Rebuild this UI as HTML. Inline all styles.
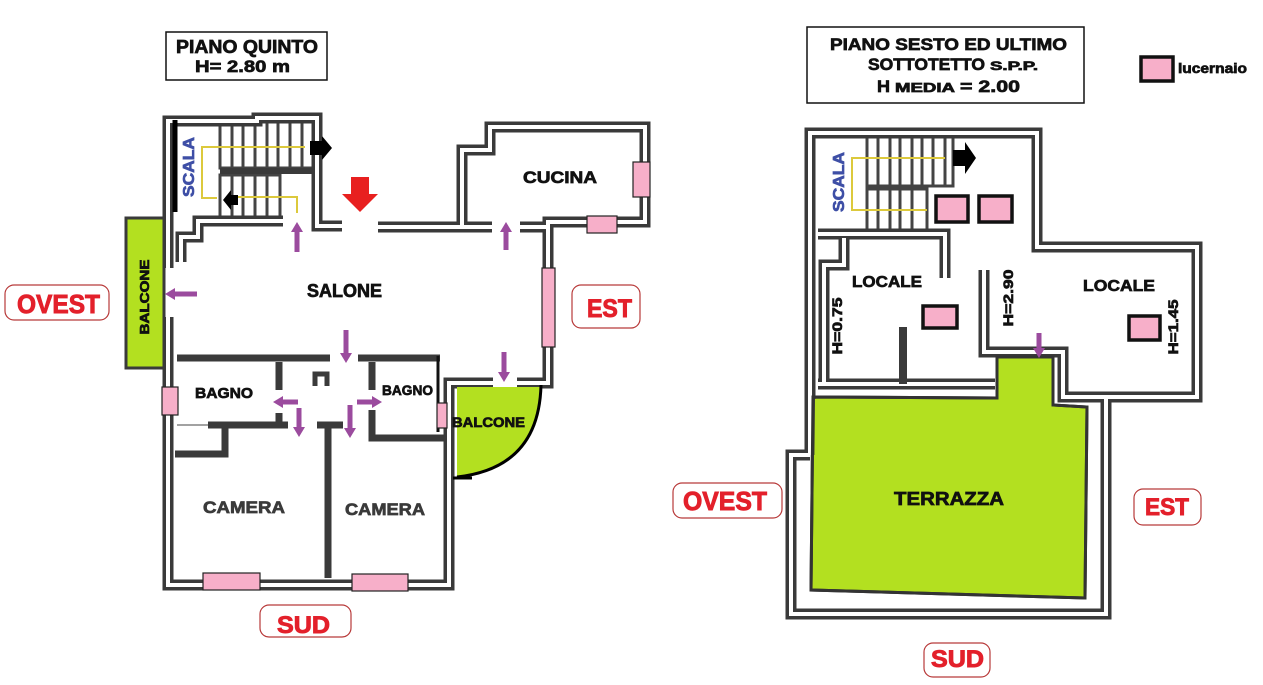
<!DOCTYPE html>
<html><head><meta charset="utf-8"><style>
html,body{margin:0;padding:0;background:#fff;}
svg{display:block;}
text{font-family:"Liberation Sans",Arial,sans-serif;font-weight:bold;stroke-width:0.7;}
.w{fill:none;stroke:#3a3a3a;stroke-width:11;stroke-linejoin:miter;}
.wi{fill:none;stroke:#fff;stroke-width:4;}
.s{fill:none;stroke:#3a3a3a;stroke-width:7;}
.st{stroke:#444;stroke-width:3;}
.pk{fill:#f7afc9;stroke:#222;stroke-width:1.2;}
.sk{fill:#f7afc9;stroke:#111;stroke-width:3.5;}
.pu{fill:#9b4b9e;}
.lab{fill:#fff;stroke:#b83a3a;stroke-width:1.2;}
.red{fill:#e3202b;stroke:#e3202b;stroke-width:0.9;}
.k{fill:#111;stroke:#111;}
.g{fill:#3a3a3a;stroke:#3a3a3a;}
.b{fill:#3e4fa6;stroke:#3e4fa6;}
</style></head><body>
<svg width="1263" height="685" viewBox="0 0 1263 685" xmlns="http://www.w3.org/2000/svg">
<rect width="1263" height="685" fill="#fff"/>

<!-- ===== LEFT PLAN ===== -->
<rect x="126" y="218" width="38" height="150" fill="#b3e020" stroke="#3a3a3a" stroke-width="3"/>

<g>
<rect x="220" y="121" width="93" height="47" fill="#fff" stroke="#444" stroke-width="3"/>
<line class="st" x1="232" y1="121" x2="232" y2="168"/><line class="st" x1="243" y1="121" x2="243" y2="168"/>
<line class="st" x1="255" y1="118" x2="255" y2="168"/><line class="st" x1="267" y1="118" x2="267" y2="168"/>
<line class="st" x1="278" y1="118" x2="278" y2="168"/><line class="st" x1="290" y1="118" x2="290" y2="168"/>
<line class="st" x1="302" y1="118" x2="302" y2="168"/>
<rect x="220" y="175" width="60" height="42" fill="#fff" stroke="#444" stroke-width="3"/>
<line class="st" x1="232" y1="175" x2="232" y2="217"/><line class="st" x1="243" y1="175" x2="243" y2="217"/>
<line class="st" x1="255" y1="175" x2="255" y2="217"/><line class="st" x1="267" y1="175" x2="267" y2="217"/>
</g>
<line x1="220" y1="171" x2="318" y2="171" stroke="#3a3a3a" stroke-width="6"/>

<g class="w">
<path d="M168,268 V121 H257 V118 H317 V226 H342"/>
<path d="M283,221 H198 V237 H181 V262"/>
<path d="M378,227 H492"/>
<path d="M520,227 H548"/>
<path d="M462,227 V150 H490 V127 H645 V222 H548 V383 H517"/>
<path d="M493,383 H449 V585 H168 V317"/>
</g>
<g class="wi">
<path d="M168,268 V121 H257 V118 H317 V226 H342"/>
<path d="M283,221 H198 V237 H181 V262"/>
<path d="M378,227 H492"/>
<path d="M520,227 H548"/>
<path d="M462,227 V150 H490 V127 H645 V222 H548 V383 H517"/>
<path d="M493,383 H449 V585 H168 V317"/>
</g>
<g class="s">
<path d="M177,358 H330"/><path d="M358,358 H440"/>
<path d="M279,362 V390"/><path d="M279,413 V425"/><path d="M208,425 H288"/>
<path d="M225,425 V454 H175"/>
<path d="M317,425 H343"/><path d="M328,425 V578"/>
<path d="M372,362 V390"/><path d="M372,410 V438 H446"/>
</g>
<path d="M315,386 V374 H327 V386" fill="none" stroke="#3a3a3a" stroke-width="5"/>
<line x1="438" y1="356" x2="438" y2="432" stroke="#111" stroke-width="3"/>
<line x1="177" y1="425" x2="208" y2="425" stroke="#444" stroke-width="1"/>
<line x1="175" y1="120" x2="175" y2="212" stroke="#000" stroke-width="5"/>

<path d="M457,387 L541,387 Q540,468 457,477 Z" fill="#b3e020"/>
<path d="M541,385 Q539,468 457,477" fill="none" stroke="#000" stroke-width="3"/>
<line x1="453" y1="478" x2="472" y2="478" stroke="#000" stroke-width="3"/>

<rect class="pk" x="162" y="387" width="16" height="28"/>
<rect class="pk" x="203" y="573" width="57" height="17"/>
<rect class="pk" x="352" y="574" width="56" height="17"/>
<rect class="pk" x="437" y="403" width="10" height="25"/>
<rect class="pk" x="542" y="268" width="13" height="79"/>
<rect class="pk" x="633" y="162" width="17" height="35"/>
<rect class="pk" x="587" y="216" width="30" height="17"/>

<polyline points="305,147 202,147 202,198 217,198" fill="none" stroke="#dcc93c" stroke-width="2"/>
<polyline points="238,197 297,197 297,213" fill="none" stroke="#dcc93c" stroke-width="2"/>
<polygon points="310,141 322,141 322,136 332,148 322,160 322,155 310,155" fill="#000"/>
<polygon points="223,200 231,190 231,195 238,195 238,205 231,205 231,210" fill="#000"/>
<polygon points="351,177 369,177 369,194 378,194 360,212 342,194 351,194" fill="#e8201f"/>

<polygon class="pu" points="297,222 303,232 299.5,232 299.5,252 294.5,252 294.5,232 291,232"/>
<polygon class="pu" points="506,222 512,232 508.5,232 508.5,250 503.5,250 503.5,232 500,232"/>
<polygon class="pu" points="343.5,330 348.5,330 348.5,353 352,353 346,363 340,353 343.5,353"/>
<polygon class="pu" points="501.5,352 506.5,352 506.5,372 510,372 504,382 498,372 501.5,372"/>
<polygon class="pu" points="296.5,408 301.5,408 301.5,427 305,427 299,437 293,427 296.5,427"/>
<polygon class="pu" points="347.5,405 352.5,405 352.5,428 356,428 350,438 344,428 347.5,428"/>
<polygon class="pu" points="165,294 175,288 175,291.5 197,291.5 197,296.5 175,296.5 175,300"/>
<polygon class="pu" points="273,402 283,396 283,399.5 298,399.5 298,404.5 283,404.5 283,408"/>
<polygon class="pu" points="382,402 372,396 372,399.5 357,399.5 357,404.5 372,404.5 372,408"/>

<text class="k" x="523" y="183" font-size="17" textLength="74" lengthAdjust="spacingAndGlyphs">CUCINA</text>
<text class="k" x="307" y="297" font-size="18" textLength="75" lengthAdjust="spacingAndGlyphs">SALONE</text>
<text class="k" x="195" y="398" font-size="15" textLength="58" lengthAdjust="spacingAndGlyphs">BAGNO</text>
<text class="k" x="382" y="395" font-size="14" textLength="51" lengthAdjust="spacingAndGlyphs">BAGNO</text>
<text class="k" x="452" y="427" font-size="14" textLength="73" lengthAdjust="spacingAndGlyphs">BALCONE</text>
<text class="g" x="203" y="513" font-size="17" textLength="82" lengthAdjust="spacingAndGlyphs">CAMERA</text>
<text class="g" x="345" y="515" font-size="17" textLength="80" lengthAdjust="spacingAndGlyphs">CAMERA</text>
<text class="k" transform="translate(144,297) rotate(-90)" y="5" text-anchor="middle" font-size="13" textLength="75" lengthAdjust="spacingAndGlyphs">BALCONE</text>
<text class="b" transform="translate(188,167) rotate(-90)" y="6" text-anchor="middle" font-size="16" textLength="60" lengthAdjust="spacingAndGlyphs">SCALA</text>

<rect x="166" y="32" width="161" height="48" fill="#fff" stroke="#111" stroke-width="1.5"/>
<text class="k" x="176" y="53" font-size="18" textLength="142" lengthAdjust="spacingAndGlyphs">PIANO QUINTO</text>
<text class="k" x="195" y="72" font-size="17" textLength="95" lengthAdjust="spacingAndGlyphs">H= 2.80 m</text>

<rect class="lab" x="5" y="285" width="104" height="35" rx="9"/>
<text class="red" x="17" y="313" font-size="26" textLength="83" lengthAdjust="spacingAndGlyphs">OVEST</text>
<rect class="lab" x="572" y="285" width="68" height="43" rx="9"/>
<text class="red" x="587" y="317" font-size="25" textLength="45" lengthAdjust="spacingAndGlyphs">EST</text>
<rect class="lab" x="260" y="605" width="91" height="32" rx="9"/>
<text class="red" x="277" y="633" font-size="24" textLength="53" lengthAdjust="spacingAndGlyphs">SUD</text>

<!-- ===== RIGHT PLAN ===== -->
<path d="M813,397 L997,398 L997,357 L1053,357 L1053,405 L1087,407 L1085,598 L811,590 Z" fill="#b3e020" stroke="#333" stroke-width="3"/>

<rect x="867" y="137" width="86" height="49" fill="#fff" stroke="#444" stroke-width="3"/>
<line class="st" x1="878" y1="137" x2="878" y2="186"/><line class="st" x1="890" y1="137" x2="890" y2="186"/>
<line class="st" x1="900" y1="137" x2="900" y2="186"/><line class="st" x1="912" y1="137" x2="912" y2="186"/>
<line class="st" x1="922" y1="137" x2="922" y2="186"/><line class="st" x1="933" y1="137" x2="933" y2="186"/>
<line class="st" x1="945" y1="137" x2="945" y2="186"/>
<rect x="867" y="189" width="60" height="41" fill="#fff" stroke="#444" stroke-width="3"/>
<line class="st" x1="878" y1="189" x2="878" y2="230"/><line class="st" x1="890" y1="189" x2="890" y2="230"/>
<line class="st" x1="900" y1="189" x2="900" y2="230"/><line class="st" x1="912" y1="189" x2="912" y2="230"/>

<g class="w">
<path d="M810,455 V133 H1037 V247 H1197 V397 H1063 V352 H984 V270"/>
<path d="M818,234 H945 V278"/>
<path d="M824,384 V265 H844 V238"/>
<path d="M818,384 H995"/>
<path d="M810,455 H791 V614 H1106 V397"/>
</g>
<g class="wi">
<path d="M810,455 V133 H1037 V247 H1197 V397 H1063 V352 H984 V270"/>
<path d="M818,234 H945 V278"/>
<path d="M824,384 V265 H844 V238"/>
<path d="M818,384 H995"/>
<path d="M810,455 H791 V614 H1106 V397"/>
</g>
<line x1="903" y1="327" x2="903" y2="384" stroke="#3a3a3a" stroke-width="8"/>

<path d="M815,399 L999,400 L999,359 L1051,359 L1051,407 L1085,409 L1083,596 L813,588 Z" fill="#b3e020"/>
<path d="M813,397 L997,398 L997,357 L1053,357 L1053,405 L1087,407 L1085,598 L811,590 Z" fill="none" stroke="#333" stroke-width="3"/>

<rect class="sk" x="936" y="196" width="32" height="26"/>
<rect class="sk" x="979" y="196" width="33" height="26"/>
<rect class="sk" x="923" y="306" width="34" height="22"/>
<rect class="sk" x="1129" y="316" width="31" height="24"/>

<polyline points="945,158 852,158 852,210 927,210" fill="none" stroke="#dcc93c" stroke-width="2"/>
<polygon points="953,150 965,150 965,142 976,158 965,174 965,166 953,166" fill="#000"/>
<polygon class="pu" points="1036.5,333 1041.5,333 1041.5,348 1045,348 1039,358 1033,348 1036.5,348"/>

<text class="b" transform="translate(838,182) rotate(-90)" y="6" text-anchor="middle" font-size="16" textLength="60" lengthAdjust="spacingAndGlyphs">SCALA</text>
<text class="k" x="852" y="287" font-size="16" textLength="70" lengthAdjust="spacingAndGlyphs">LOCALE</text>
<text class="k" x="1083" y="291" font-size="16" textLength="72" lengthAdjust="spacingAndGlyphs">LOCALE</text>
<text class="k" transform="translate(837,326) rotate(-90)" y="5" text-anchor="middle" font-size="14" textLength="57" lengthAdjust="spacingAndGlyphs">H=0.75</text>
<text class="k" transform="translate(1008,298) rotate(-90)" y="5" text-anchor="middle" font-size="14" textLength="57" lengthAdjust="spacingAndGlyphs">H=2.90</text>
<text class="k" transform="translate(1173,327) rotate(-90)" y="5" text-anchor="middle" font-size="14" textLength="55" lengthAdjust="spacingAndGlyphs">H=1.45</text>
<text class="k" x="894" y="505" font-size="18" textLength="110" lengthAdjust="spacingAndGlyphs">TERRAZZA</text>

<rect x="807" y="27" width="277" height="76" fill="#fff" stroke="#111" stroke-width="1.5"/>
<text class="k" x="830" y="50" font-size="17" textLength="237" lengthAdjust="spacingAndGlyphs">PIANO SESTO  ED ULTIMO</text>
<text class="k" x="868" y="70" font-size="17" textLength="117" lengthAdjust="spacingAndGlyphs">SOTTOTETTO</text>
<text class="k" x="990" y="70" font-size="12" textLength="48" lengthAdjust="spacingAndGlyphs">S.P.P.</text>
<text class="k" x="877" y="92" font-size="17" textLength="13" lengthAdjust="spacingAndGlyphs">H</text>
<text class="k" x="895" y="92" font-size="13" textLength="60" lengthAdjust="spacingAndGlyphs">MEDIA</text>
<text class="k" x="960" y="92" font-size="17" textLength="60" lengthAdjust="spacingAndGlyphs">= 2.00</text>

<rect class="sk" x="1141" y="57" width="32" height="24"/>
<text class="k" x="1178" y="73" font-size="14" textLength="69" lengthAdjust="spacingAndGlyphs">lucernaio</text>

<rect class="lab" x="673" y="483" width="109" height="35" rx="9"/>
<text class="red" x="683" y="510" font-size="26" textLength="84" lengthAdjust="spacingAndGlyphs">OVEST</text>
<rect class="lab" x="1134" y="489" width="67" height="36" rx="9"/>
<text class="red" x="1145" y="515" font-size="24" textLength="44" lengthAdjust="spacingAndGlyphs">EST</text>
<rect class="lab" x="924" y="643" width="66" height="34" rx="9"/>
<text class="red" x="931" y="667" font-size="24" textLength="53" lengthAdjust="spacingAndGlyphs">SUD</text>
</svg>
</body></html>
